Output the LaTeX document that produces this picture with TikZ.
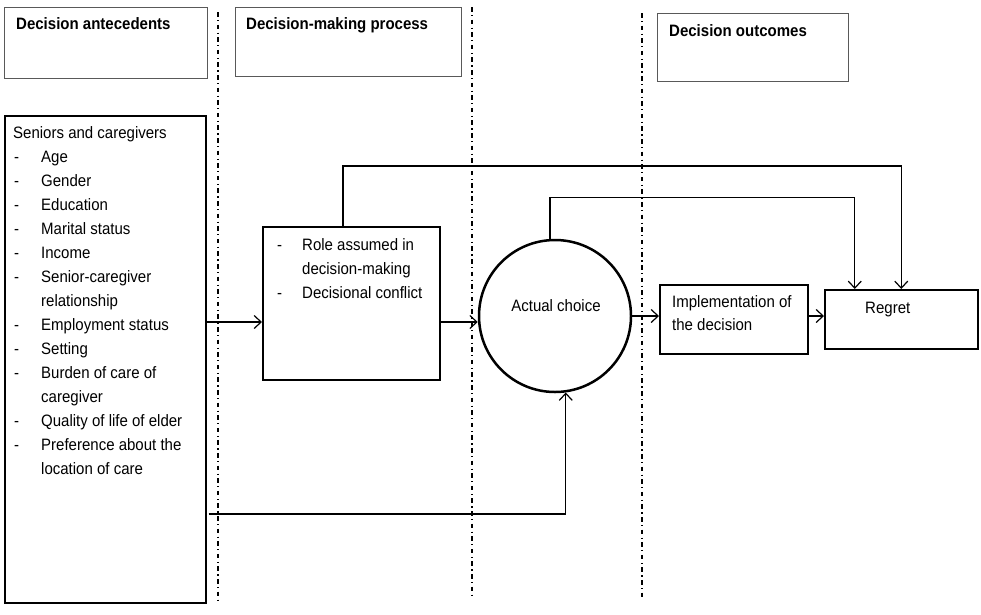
\documentclass[tikz,border=0pt]{standalone}
\usepackage{fontspec}
\setmainfont[FakeStretch=0.91]{Liberation Sans}
\usetikzlibrary{arrows.meta,calc}
\begin{document}
\begin{tikzpicture}[x=1pt,y=-1pt,
  box/.style={draw, line width=1.5pt, inner sep=0pt, anchor=north west},
  hbox/.style={draw=black!65, line width=0.9pt, inner sep=0pt, anchor=north west},
  txt/.style={anchor=base west, inner sep=0pt, font=\fontsize{16.5}{18}\selectfont},
  htxt/.style={anchor=base west, inner sep=0pt, font=\fontsize{16.5}{18}\selectfont\bfseries},
  sepline/.style={line width=1.1pt, dash pattern=on 4.5pt off 3.5pt on 1.1pt off 3.5pt},
  arr/.style={line width=1.2pt, -{Straight Barb[length=7pt,width=13pt,line width=1.2pt]}}]
\useasboundingbox (0,0) rectangle (981,614);

% header boxes
\node[hbox, minimum width=203pt, minimum height=71pt] (h1) at (4,7) {};
\node[hbox, minimum width=226pt, minimum height=69pt] (h2) at (235,7) {};
\node[hbox, minimum width=191pt, minimum height=68pt] (h3) at (657,13) {};
\node[htxt] (h1t) at (16,29) {Decision antecedents};
\node[htxt] (h2t) at (246,29) {Decision-making process};
\node[htxt] (h3t) at (669,36) {Decision outcomes};

% separators
\draw[sepline] (218,12) -- (218,600);
\draw[sepline] (472,7) -- (472,597);
\draw[sepline] (642,13) -- (642,597);

% antecedents box
\node[box, minimum width=201pt, minimum height=487pt] (ante) at (4,115) {};
\node[txt] (a0) at (13,138) {Seniors and caregivers};
\foreach \i/\y/\t in {1/162/Age, 2/186/Gender, 3/210/Education, 4/234/Marital status, 5/258/Income, 6/282/Senior-caregiver, 8/330/Employment status, 9/354/Setting, 10/378/Burden of care of, 12/426/Quality of life of elder, 13/450/Preference about the}{
  \node[txt] (ad\i) at (14,\y) {-};
  \node[txt] (at\i) at (41,\y) {\t};
}
\node[txt] (at7) at (41,306) {relationship};
\node[txt] (at11) at (41,402) {caregiver};
\node[txt] (at14) at (41,474) {location of care};

% process box
\node[box, minimum width=177pt, minimum height=153pt] (proc) at (262,226) {};
\node[txt] (pd1) at (277,250) {-};
\node[txt] (pt1) at (302,250) {Role assumed in};
\node[txt] (pt2) at (302,274) {decision-making};
\node[txt] (pd3) at (277,298) {-};
\node[txt] (pt3) at (302,298) {Decisional conflict};

% choice circle
\node[draw, circle, line width=2.5pt, minimum size=152pt, inner sep=0pt] (choice) at (555,316) {};
\node[anchor=base, inner sep=0pt, font=\fontsize{16.5}{18}\selectfont] (ct) at (556,311) {Actual choice};

% outcomes
\node[box, line width=2pt, minimum width=148pt, minimum height=69pt] (impl) at (659,284) {};
\node[txt] (it1) at (672,307) {Implementation of};
\node[txt] (it2) at (672,330) {the decision};
\node[box, minimum width=153pt, minimum height=59pt] (regret) at (824,289) {};
\node[txt] (rt) at (865,313) {Regret};

% connectors
\coordinate (ya) at (0,322);
\coordinate (yb) at (0,316);
\coordinate (yc) at (0,514);
\draw[arr] (ante.east |- ya) -- (proc.west |- ya);
\draw[arr] (proc.east |- ya) -- (choice.west |- ya);
\draw[arr] (choice.east) -- (impl.west |- choice.east);
\draw[arr] (impl.east |- yb) -- (regret.west |- yb);
\draw[arr] ([xshift=81pt]proc.north west) -- ++(0,-60) -| (regret.north);
\draw[arr] ([xshift=-5pt]choice.north) -- ++(0,-41) -| ([xshift=-46.5pt]regret.north);
\draw[arr] ([xshift=2pt]ante.east |- yc) -| (choice.-82);
\end{tikzpicture}
\end{document}
